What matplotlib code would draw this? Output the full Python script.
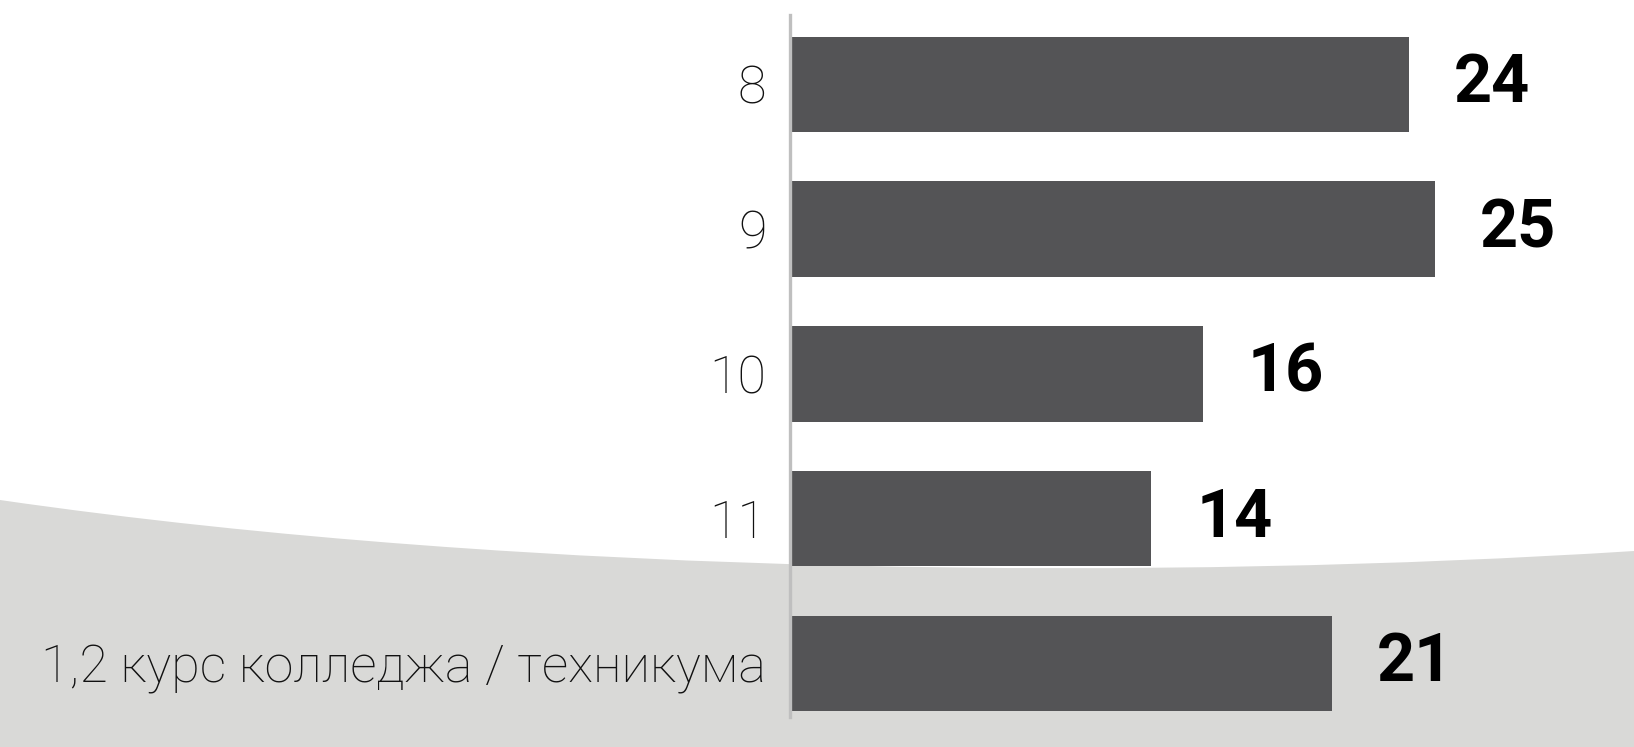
import matplotlib
matplotlib.use("Agg")
import matplotlib.pyplot as plt
from matplotlib.path import Path
from matplotlib.patches import PathPatch
import numpy as np

categories = ["8", "9", "10", "11", "1,2 курс колледжа / техникума"]
values = [24, 25, 16, 14, 21]
value_labels = ["24", "25", "16", "14", "21"]

W, H = 1634, 747
fig = plt.figure(figsize=(W / 100, H / 100), dpi=100)
fig.patch.set_facecolor("white")

# background decorative curved band (figure coords)
verts = [(0, 1 - 500 / H), (0.33, 1 - 578 / H), (0.72, 1 - 580 / H), (1.0, 1 - 551 / H),
         (1.0, 0), (0, 0), (0, 1 - 500 / H)]
codes = [Path.MOVETO, Path.CURVE4, Path.CURVE4, Path.CURVE4, Path.LINETO, Path.LINETO, Path.CLOSEPOLY]
bg = PathPatch(Path(verts, codes), transform=fig.transFigure, facecolor="#D9D9D7",
               edgecolor="none", zorder=-10)
fig.patches.append(bg)

ax = fig.add_axes([790 / W, 1 - 717 / H, (W - 790) / W, (717 - 15) / H])
ax.set_zorder(5)
ax.set_facecolor("none")
y = np.arange(len(categories))
ax.barh(y, values, height=0.66, color="#545456", zorder=2)
ax.set_ylim(4.37, -0.48)
ax.set_xlim(0, 25 * (W - 790) / 645)

for s in ["top", "right", "bottom"]:
    ax.spines[s].set_visible(False)
ax.spines["left"].set_color("#BFBFBF")
ax.spines["left"].set_linewidth(2.4)
ax.set_xticks([])
ax.set_yticks(y)
ax.set_yticklabels(categories, fontsize=37.5, family=["Roboto", "DejaVu Sans"],
                   fontweight="light", color="#111111")
ax.tick_params(axis="y", length=0, pad=17)

for yi, v, lab in zip(y, values, value_labels):
    ax.annotate(lab, (v, yi), xytext=(45, 0), textcoords="offset pixels",
                ha="left", va="center", fontsize=48, fontweight="bold",
                family=["Roboto", "DejaVu Sans"], color="black")

fig.savefig("out.png", dpi=100)
